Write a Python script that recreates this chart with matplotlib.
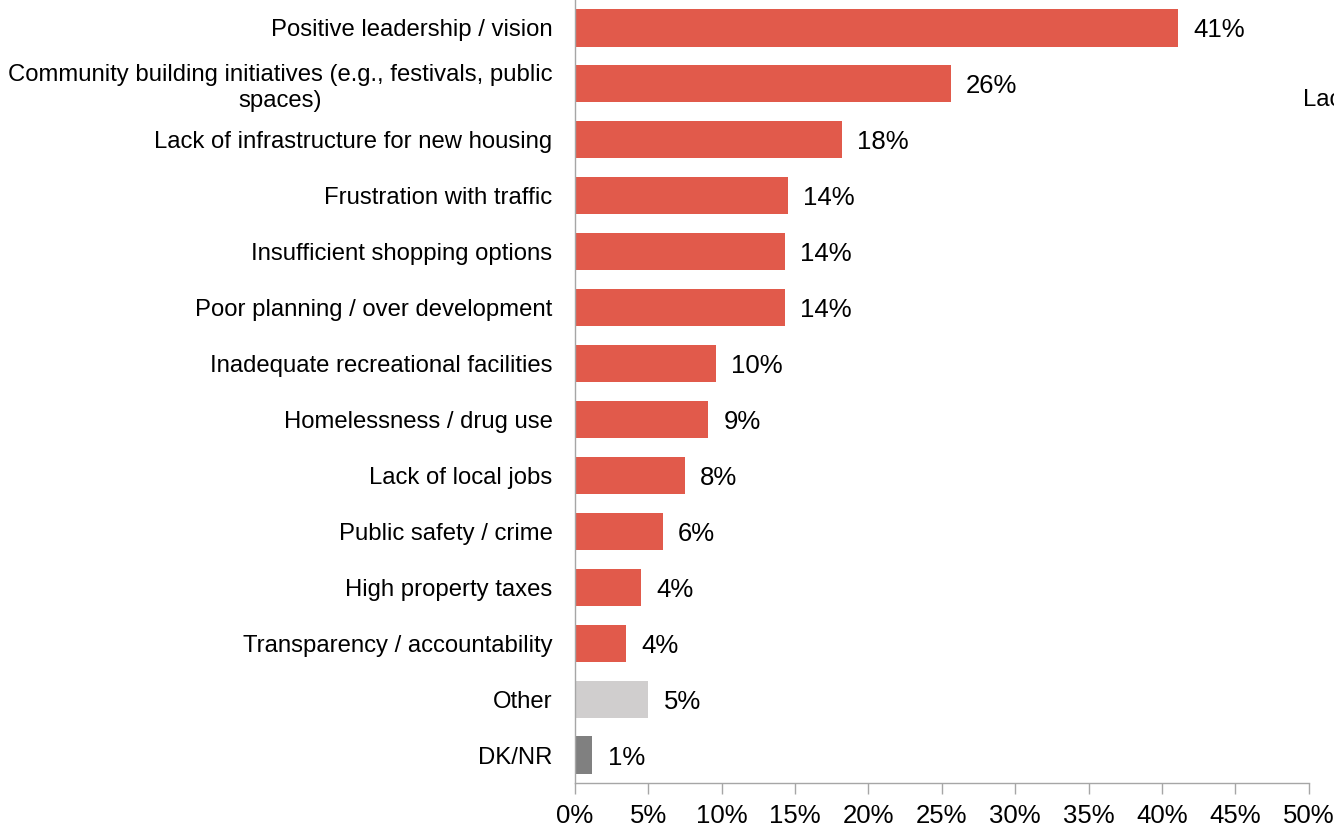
import matplotlib
matplotlib.use("Agg")
import matplotlib.pyplot as plt

categories = [
    "Positive leadership / vision",
    "Community building initiatives (e.g., festivals, public\nspaces)",
    "Lack of infrastructure for new housing",
    "Frustration with traffic",
    "Insufficient shopping options",
    "Poor planning / over development",
    "Inadequate recreational facilities",
    "Homelessness / drug use",
    "Lack of local jobs",
    "Public safety / crime",
    "High property taxes",
    "Transparency / accountability",
    "Other",
    "DK/NR",
]
values = [41.1, 25.6, 18.2, 14.5, 14.3, 14.3, 9.6, 9.1, 7.5, 6.0, 4.5, 3.5, 5.0, 1.2]
value_labels = ["41%", "26%", "18%", "14%", "14%", "14%", "10%", "9%", "8%", "6%",
                "4%", "4%", "5%", "1%"]
bar_colors = ["#E15A4B"] * 12 + ["#D0CECE", "#808080"]
x_ticks = [0, 5, 10, 15, 20, 25, 30, 35, 40, 45, 50]
x_tick_labels = [f"{t}%" for t in x_ticks]

plt.rcParams['font.family'] = ['Liberation Sans', 'DejaVu Sans']
FS_CAT = 17.2
FS_VAL = 18.5

fig = plt.figure(figsize=(13.34, 8.27), dpi=100)
ax = fig.add_axes([574.7 / 1334, 1 - 783 / 827, 734 / 1334, 783 / 827])

ypos = list(range(len(categories)))
ax.barh(ypos, values, height=0.665, color=bar_colors)
for y, v, lab in zip(ypos, values, value_labels):
    ax.text(v + 1.05, y, lab, va="center_baseline", ha="left", fontsize=FS_VAL,
            color="#000000")

ax.set_ylim(len(categories) - 0.5, -0.5)
ax.set_xlim(0, 50)
ax.set_yticks(ypos)
ax.set_yticklabels(categories, fontsize=FS_CAT, multialignment="center")
ax.set_xticks(x_ticks)
ax.set_xticklabels(x_tick_labels, fontsize=FS_VAL)

for side in ["top", "right"]:
    ax.spines[side].set_visible(False)
for side in ["left", "bottom"]:
    ax.spines[side].set_color("#A6A6A6")
    ax.spines[side].set_linewidth(1.0)
ax.tick_params(axis="y", length=0, pad=16)
ax.tick_params(axis="x", direction="out", length=8, color="#A6A6A6", width=1.0, pad=7)

fig.text(1303 / 1334, 1 - 100 / 827, "Lack of", fontsize=FS_CAT, va="center", ha="left")

fig.savefig("out.png", dpi=100)
